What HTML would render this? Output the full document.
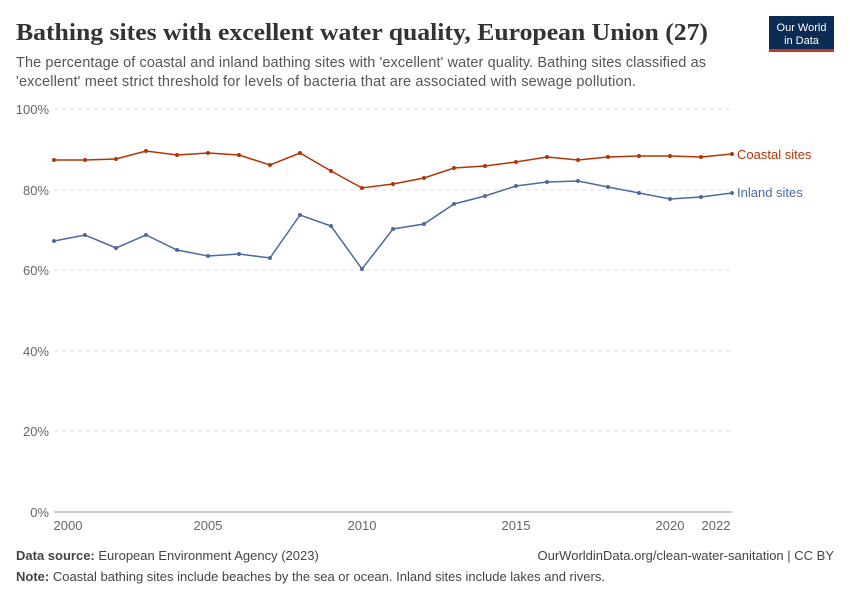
<!DOCTYPE html>
<html><head><meta charset="utf-8"><style>
body{margin:0;background:#fff;width:850px;height:600px;overflow:hidden;font-family:"Liberation Sans",sans-serif;}
</style></head><body>
<svg width="850" height="600" xmlns="http://www.w3.org/2000/svg">
<text x="16" y="40" font-family="Liberation Serif,serif" font-size="24" font-weight="bold" fill="#333" textLength="692" lengthAdjust="spacingAndGlyphs">Bathing sites with excellent water quality, European Union (27)</text>
<text x="16" y="67" font-size="14.5" fill="#555" textLength="690">The percentage of coastal and inland bathing sites with 'excellent' water quality. Bathing sites classified as</text>
<text x="16" y="86" font-size="14.5" fill="#555" textLength="620">'excellent' meet strict threshold for levels of bacteria that are associated with sewage pollution.</text>
<rect x="769" y="16" width="65" height="36" fill="#0c2c54"/>
<rect x="769" y="49" width="65" height="3" fill="#c0392b"/>
<text x="801.5" y="31" font-size="11" fill="#fff" text-anchor="middle">Our World</text>
<text x="801.5" y="44" font-size="11" fill="#fff" text-anchor="middle">in Data</text>
<g stroke="#ddd" stroke-dasharray="4,4">
<line x1="54" x2="732" y1="109" y2="109"/><line x1="54" x2="732" y1="190" y2="190"/><line x1="54" x2="732" y1="270" y2="270"/><line x1="54" x2="732" y1="351" y2="351"/><line x1="54" x2="732" y1="431" y2="431"/>
</g>
<line x1="54" x2="732" y1="512" y2="512" stroke="#999"/>
<g font-size="13" fill="#666" text-anchor="end">
<text x="49" y="114">100%</text><text x="49" y="195">80%</text><text x="49" y="275">60%</text><text x="49" y="356">40%</text><text x="49" y="436">20%</text><text x="49" y="517">0%</text>
</g>
<g font-size="13" fill="#666" text-anchor="middle">
<text x="68" y="530">2000</text><text x="208" y="530">2005</text><text x="362" y="530">2010</text><text x="516" y="530">2015</text><text x="670" y="530">2020</text><text x="716" y="530">2022</text>
</g>
<polyline fill="none" stroke="#b13507" stroke-width="1.5" points="54,160 85,160 116,159 146,151 177,155 208,153 239,155 270,165 300,153 331,171 362,188 393,184 424,178 454,168 485,166 516,162 547,157 578,160 608,157 639,156 670,156 701,157 732,154"/>
<g fill="#b13507"><circle cx="54" cy="160" r="2"/><circle cx="85" cy="160" r="2"/><circle cx="116" cy="159" r="2"/><circle cx="146" cy="151" r="2"/><circle cx="177" cy="155" r="2"/><circle cx="208" cy="153" r="2"/><circle cx="239" cy="155" r="2"/><circle cx="270" cy="165" r="2"/><circle cx="300" cy="153" r="2"/><circle cx="331" cy="171" r="2"/><circle cx="362" cy="188" r="2"/><circle cx="393" cy="184" r="2"/><circle cx="424" cy="178" r="2"/><circle cx="454" cy="168" r="2"/><circle cx="485" cy="166" r="2"/><circle cx="516" cy="162" r="2"/><circle cx="547" cy="157" r="2"/><circle cx="578" cy="160" r="2"/><circle cx="608" cy="157" r="2"/><circle cx="639" cy="156" r="2"/><circle cx="670" cy="156" r="2"/><circle cx="701" cy="157" r="2"/><circle cx="732" cy="154" r="2"/></g>
<polyline fill="none" stroke="#4c6a9c" stroke-width="1.5" points="54,241 85,235 116,248 146,235 177,250 208,256 239,254 270,258 300,215 331,226 362,269 393,229 424,224 454,204 485,196 516,186 547,182 578,181 608,187 639,193 670,199 701,197 732,193"/>
<g fill="#4c6a9c"><circle cx="54" cy="241" r="2"/><circle cx="85" cy="235" r="2"/><circle cx="116" cy="248" r="2"/><circle cx="146" cy="235" r="2"/><circle cx="177" cy="250" r="2"/><circle cx="208" cy="256" r="2"/><circle cx="239" cy="254" r="2"/><circle cx="270" cy="258" r="2"/><circle cx="300" cy="215" r="2"/><circle cx="331" cy="226" r="2"/><circle cx="362" cy="269" r="2"/><circle cx="393" cy="229" r="2"/><circle cx="424" cy="224" r="2"/><circle cx="454" cy="204" r="2"/><circle cx="485" cy="196" r="2"/><circle cx="516" cy="186" r="2"/><circle cx="547" cy="182" r="2"/><circle cx="578" cy="181" r="2"/><circle cx="608" cy="187" r="2"/><circle cx="639" cy="193" r="2"/><circle cx="670" cy="199" r="2"/><circle cx="701" cy="197" r="2"/><circle cx="732" cy="193" r="2"/></g>
<text x="737" y="159" font-size="13" fill="#b13507">Coastal sites</text>
<text x="737" y="197" font-size="13" fill="#4c6a9c">Inland sites</text>
<text x="16" y="560" font-size="13" fill="#444"><tspan font-weight="bold">Data source:</tspan> European Environment Agency (2023)</text>
<text x="834" y="560" font-size="13" fill="#444" text-anchor="end">OurWorldinData.org/clean-water-sanitation | CC BY</text>
<text x="16" y="581" font-size="13" fill="#444"><tspan font-weight="bold">Note:</tspan> Coastal bathing sites include beaches by the sea or ocean. Inland sites include lakes and rivers.</text>
</svg>
</body></html>
